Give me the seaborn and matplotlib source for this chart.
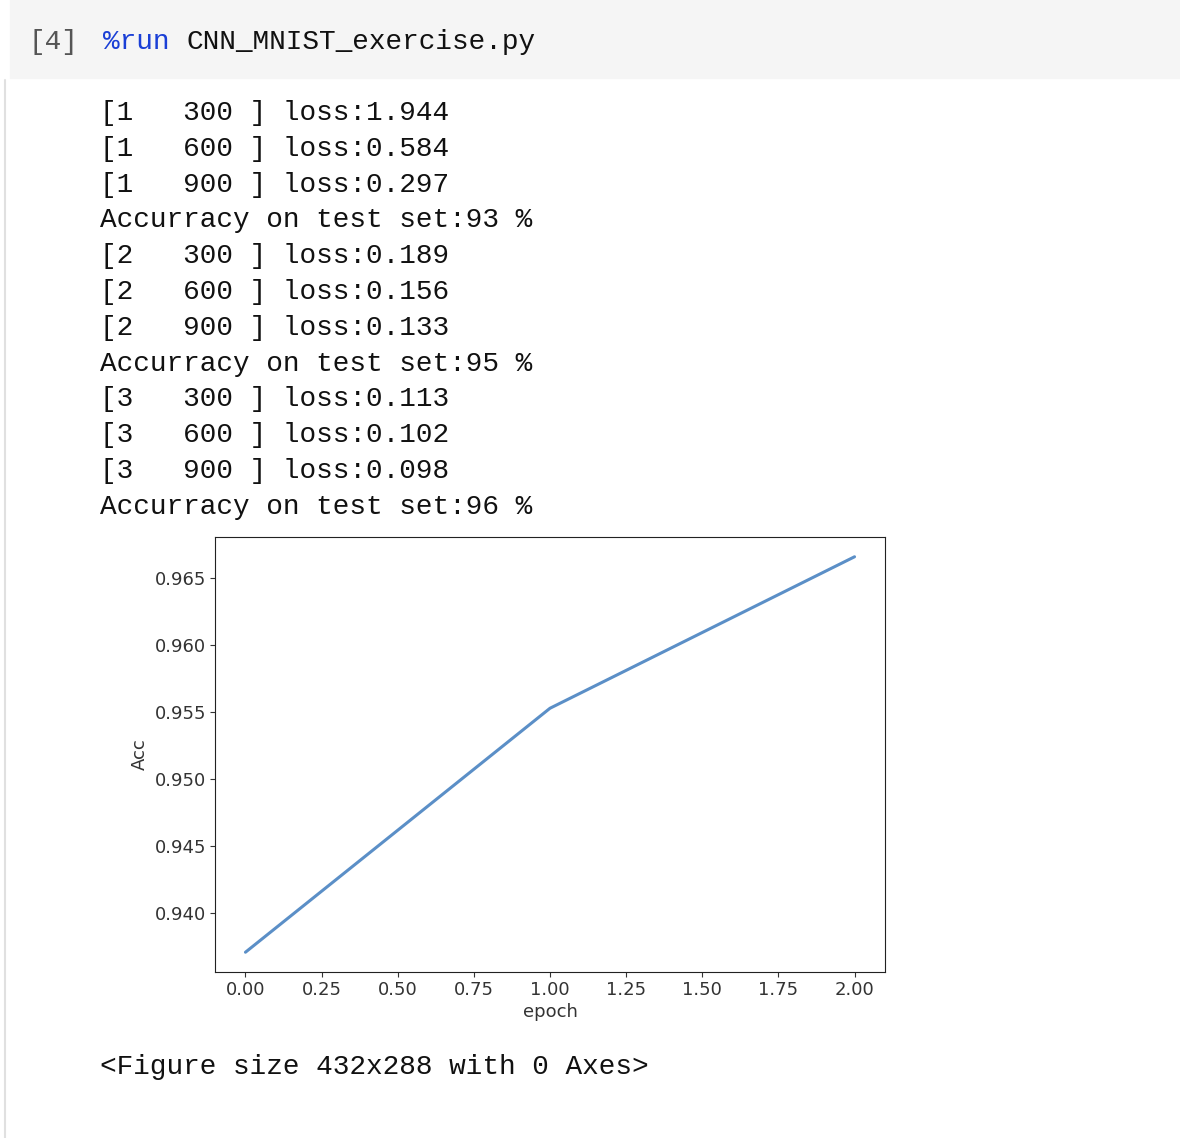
import matplotlib
matplotlib.use("Agg")
import matplotlib.pyplot as plt
import seaborn as sns
from matplotlib.patches import Rectangle

# log lines printed by the notebook cell
log_lines = [
    "[1   300 ] loss:1.944",
    "[1   600 ] loss:0.584",
    "[1   900 ] loss:0.297",
    "Accurracy on test set:93 %",
    "[2   300 ] loss:0.189",
    "[2   600 ] loss:0.156",
    "[2   900 ] loss:0.133",
    "Accurracy on test set:95 %",
    "[3   300 ] loss:0.113",
    "[3   600 ] loss:0.102",
    "[3   900 ] loss:0.098",
    "Accurracy on test set:96 %",
]
epochs = [0, 1, 2]
acc = [0.9371, 0.9553, 0.9666]
xticks = [0.0, 0.25, 0.5, 0.75, 1.0, 1.25, 1.5, 1.75, 2.0]
yticks = [0.940, 0.945, 0.950, 0.955, 0.960, 0.965]

sns.set_style("ticks")
W, H = 1180, 1138
fig = plt.figure(figsize=(W / 100, H / 100), dpi=100)

def fy(y):
    return 1 - y / H

# input cell background and output left border
fig.patches.append(Rectangle((10 / W, fy(78)), 1 - 10 / W, 78 / H,
                             transform=fig.transFigure, color="#f5f5f5", zorder=0))
fig.add_artist(plt.Line2D([5 / W, 5 / W], [0, fy(80)], transform=fig.transFigure,
                          color="#e0e0e0", lw=1.5))

mono = dict(family="Liberation Mono", fontsize=20, va="center", ha="left")
fig.text(28 / W, fy(42), "[4]", color="#555555", **mono)
fig.text(103 / W, fy(42), "%run", color="#1a3fd6", **mono)
fig.text(186 / W, fy(42), "CNN_MNIST_exercise.py", color="#111111", **mono)
for i, line in enumerate(log_lines):
    fig.text(100 / W, fy(113 + i * 35.8), line, color="#111111", **mono)
fig.text(100 / W, fy(1067), "<Figure size 432x288 with 0 Axes>", color="#111111", **mono)

ax = fig.add_axes([215 / W, 1 - 972 / H, 670 / W, 435 / H])
sns.lineplot(x=epochs, y=acc, ax=ax, color="#5b8fc7", linewidth=2.2)
ax.set_xticks(xticks)
ax.set_xticklabels([f"{t:.2f}" for t in xticks])
ax.set_yticks(yticks)
ax.set_yticklabels([f"{t:.3f}" for t in yticks])
ax.tick_params(labelsize=13, colors="#333333", pad=3)
ax.set_xlabel("epoch", fontsize=13, color="#333333", labelpad=3)
ax.set_ylabel("Acc", fontsize=13, color="#333333", labelpad=4)
for s in ax.spines.values():
    s.set_visible(True)
    s.set_color("#222222")

fig.savefig("out.png", dpi=100)
